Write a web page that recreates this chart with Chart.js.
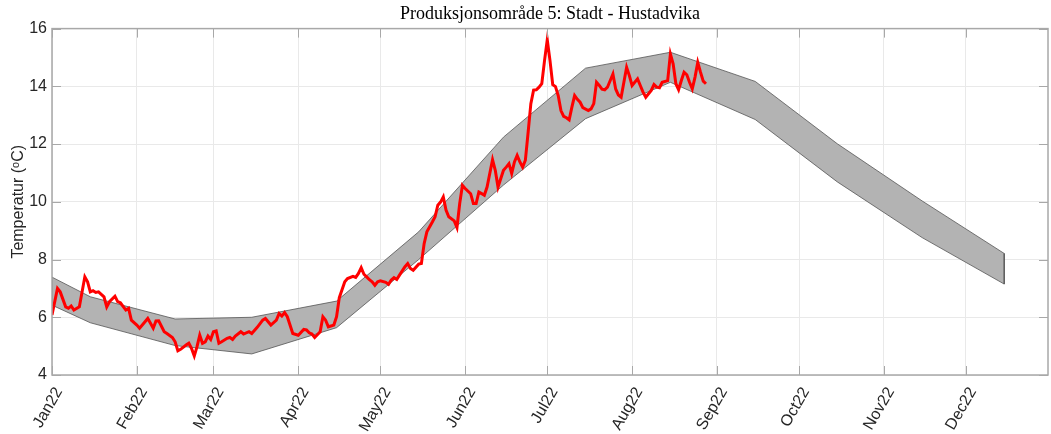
<!DOCTYPE html>
<html>
<head>
<meta charset="utf-8">
<script src="https://cdn.jsdelivr.net/npm/chart.js@4.4.1/dist/chart.umd.min.js"></script>
<style>
    body { margin: 0; background: #ffffff; }
    #temp-chart { display: block; }
</style>
</head>
<body>
<canvas id="temp-chart" width="1051" height="434"></canvas>
<script>
// Axis ticks (day of year, 2022)
const monthStarts = [0, 31, 59, 90, 120, 151, 181, 212, 243, 273, 304, 334];
const monthLabels = ['Jan22', 'Feb22', 'Mar22', 'Apr22', 'May22', 'Jun22', 'Jul22', 'Aug22', 'Sep22', 'Oct22', 'Nov22', 'Dec22'];
const yTicks = [4, 6, 8, 10, 12, 14, 16];

// Normal range band (1st Jan, then the 15th of each month)
const bandDays = [0, 14, 45, 73, 104, 134, 165, 195, 226, 257, 287, 318, 348];
const bandUpper = [7.39, 6.71, 5.94, 6.00, 6.56, 8.96, 12.24, 14.63, 15.18, 14.17, 12.01, 10.03, 8.21];
const bandLower = [6.42, 5.81, 5.02, 4.73, 5.64, 8.00, 10.58, 12.88, 14.14, 12.85, 10.69, 8.76, 7.15];

// Measured daily temperature
const tempDays = [0, 2, 3, 5, 6, 7, 8, 10, 12, 13, 14, 15, 16, 17, 19, 20, 21, 23, 24, 25, 27, 28, 29,
    31, 32, 33, 35, 36, 37, 38, 39, 41, 42, 44, 45, 46, 47, 49, 50, 51, 52, 53, 54, 55, 56, 57, 58,
    59, 60, 61, 62, 64, 65, 66, 67, 69, 70, 72, 73, 75, 77, 78, 80, 82, 83, 84, 85, 86, 88,
    90, 92, 93, 94, 95, 96, 98, 99, 100, 101, 103, 104, 105, 107, 108, 110, 111, 112, 113, 114, 115, 116, 117, 118, 119,
    120, 122, 123, 124, 125, 126, 127, 129, 130, 131, 132, 134, 135, 136, 137, 139, 140, 141, 142, 143, 144, 145, 147, 148, 149, 150,
    151, 153, 154, 155, 156, 158, 159, 161, 162, 163, 165, 166, 167, 168, 169, 170, 171, 172, 173, 174, 175, 176, 177, 178, 179, 180,
    181, 182, 183, 184, 185, 186, 187, 188, 189, 190, 191, 192, 193, 194, 196, 197, 198, 199, 200, 201, 202, 203, 205, 206, 207, 208, 210, 211,
    212, 214, 215, 216, 217, 219, 220, 221, 222, 223, 225, 226, 227, 228, 229, 230, 231, 232, 233, 234, 235, 236, 237, 238, 239];
const tempValues = [6.08, 7.00, 6.88, 6.36, 6.31, 6.39, 6.25, 6.36, 7.40, 7.23, 6.88, 6.92, 6.86, 6.88, 6.71, 6.36, 6.54, 6.73, 6.54, 6.50, 6.25, 6.31, 5.90,
    5.73, 5.62, 5.73, 5.96, 5.79, 5.62, 5.87, 5.88, 5.50, 5.44, 5.30, 5.15, 4.84, 4.89, 5.04, 5.10, 4.92, 4.66, 4.98, 5.38, 5.10, 5.15, 5.35, 5.23,
    5.50, 5.53, 5.10, 5.15, 5.27, 5.30, 5.23, 5.35, 5.50, 5.42, 5.50, 5.44, 5.65, 5.90, 5.96, 5.73, 5.90, 6.13, 6.04, 6.16, 6.02, 5.44,
    5.38, 5.58, 5.56, 5.46, 5.42, 5.30, 5.50, 6.02, 5.90, 5.67, 5.73, 6.02, 6.68, 7.23, 7.34, 7.42, 7.38, 7.52, 7.72, 7.49, 7.40, 7.30, 7.23, 7.11, 7.23,
    7.26, 7.21, 7.14, 7.29, 7.37, 7.31, 7.46, 7.75, 7.86, 7.69, 7.63, 7.84, 7.86, 8.55, 8.96, 9.30, 9.48, 9.88, 9.99, 10.17, 9.71, 9.48, 9.34, 9.11, 9.94, 10.57,
    10.46, 10.28, 9.94, 9.94, 10.34, 10.23, 10.51, 11.46, 11.09, 10.51, 11.09, 11.20, 11.32, 10.98, 11.38, 11.61, 11.38, 11.20, 11.44, 12.40, 13.40, 13.87, 13.88, 13.97, 14.09, 14.89,
    15.61, 14.89, 14.06, 13.99, 13.68, 13.16, 12.96, 12.91, 12.84, 13.28, 13.68, 13.55, 13.45, 13.26, 13.16, 13.22, 13.40, 14.14, 14.03, 13.90, 13.88, 13.97, 14.43, 13.91, 13.70, 13.62, 14.66, 14.37,
    14.03, 14.26, 14.03, 13.80, 13.62, 13.86, 14.06, 13.97, 13.95, 14.14, 14.20, 15.12, 14.78, 14.09, 13.88, 14.20, 14.49, 14.40, 14.14, 13.91, 14.32, 14.83, 14.49, 14.18, 14.09];

const axisColor = '#a8a8a8';
const textColor = '#262626';

// Closed polygon: upper edge left->right, lower edge right->left
function buildBandPolygon() {
    const pts = bandDays.map((d, i) => ({ x: d, y: bandUpper[i] }));
    for (let i = bandDays.length - 1; i >= 0; i--) {
        pts.push({ x: bandDays[i], y: bandLower[i] });
    }
    pts.push(pts[0]);
    return pts;
}

// MATLAB style box with inward ticks
const boxPlugin = {
    id: 'boxPlugin',
    afterDatasetsDraw(chart) {
        const { ctx, chartArea: a, scales } = chart;
        const len = 9;
        ctx.save();
        ctx.strokeStyle = axisColor;
        ctx.lineWidth = 1;
        ctx.beginPath();
        monthStarts.forEach(v => {
            const px = Math.round(scales.x.getPixelForValue(v)) + 0.5;
            ctx.moveTo(px, a.bottom); ctx.lineTo(px, a.bottom - len);
            ctx.moveTo(px, a.top); ctx.lineTo(px, a.top + len);
        });
        yTicks.forEach(v => {
            const py = Math.round(scales.y.getPixelForValue(v)) + 0.5;
            ctx.moveTo(a.left, py); ctx.lineTo(a.left + len, py);
            ctx.moveTo(a.right, py); ctx.lineTo(a.right - len, py);
        });
        ctx.stroke();
        ctx.lineWidth = 1.5;
        ctx.strokeRect(a.left, a.top, a.right - a.left, a.bottom - a.top);
        ctx.restore();
    }
};

const ctx = document.getElementById('temp-chart').getContext('2d');
new Chart(ctx, {
    type: 'line',
    data: {
        datasets: [{
            label: 'Temperatur',
            data: tempDays.map((d, i) => ({ x: d, y: tempValues[i] })),
            borderColor: '#ff0000',
            borderWidth: 3,
            pointRadius: 0,
            tension: 0,
            fill: false
        }, {
            label: 'Normal',
            data: buildBandPolygon(),
            borderColor: '#555555',
            borderWidth: 0.8,
            backgroundColor: '#b3b3b3',
            pointRadius: 0,
            tension: 0,
            fill: 'shape'
        }]
    },
    options: {
        responsive: false,
        animation: false,
        devicePixelRatio: 1,
        layout: { padding: { left: 0, right: 3, top: 0, bottom: 0 } },
        scales: {
            x: {
                type: 'linear',
                min: 0,
                max: 364,
                afterBuildTicks: (scale) => {
                    scale.ticks = monthStarts.map(v => ({ value: v }));
                },
                afterFit: (scale) => { scale.height = 59; },
                ticks: {
                    autoSkip: false,
                    minRotation: 60,
                    maxRotation: 60,
                    padding: 9,
                    labelOffset: 7,
                    color: textColor,
                    font: { family: 'Liberation Sans', size: 16 },
                    callback: (value) => monthLabels[monthStarts.indexOf(value)]
                },
                grid: { color: '#e9e9e9', drawTicks: false },
                border: { display: false }
            },
            y: {
                min: 4,
                max: 16,
                afterBuildTicks: (scale) => {
                    scale.ticks = yTicks.map(v => ({ value: v }));
                },
                afterFit: (scale) => { scale.width = 52; },
                ticks: {
                    padding: 5,
                    color: textColor,
                    font: { family: 'Liberation Sans', size: 16 }
                },
                title: {
                    display: true,
                    text: 'Temperatur (ᵒC)',
                    color: textColor,
                    font: { family: 'Liberation Sans', size: 16 },
                    padding: { top: 9, bottom: 0 }
                },
                grid: { color: '#e9e9e9', drawTicks: false },
                border: { display: false }
            }
        },
        plugins: {
            legend: { display: false },
            tooltip: { enabled: false },
            title: {
                display: true,
                fullSize: false,
                text: 'Produksjonsområde 5: Stadt - Hustadvika',
                color: '#000000',
                font: { family: 'Liberation Serif', size: 18, weight: 'normal' },
                padding: { top: 3, bottom: 4 }
            }
        }
    },
    plugins: [boxPlugin]
});
</script>
</body>
</html>
